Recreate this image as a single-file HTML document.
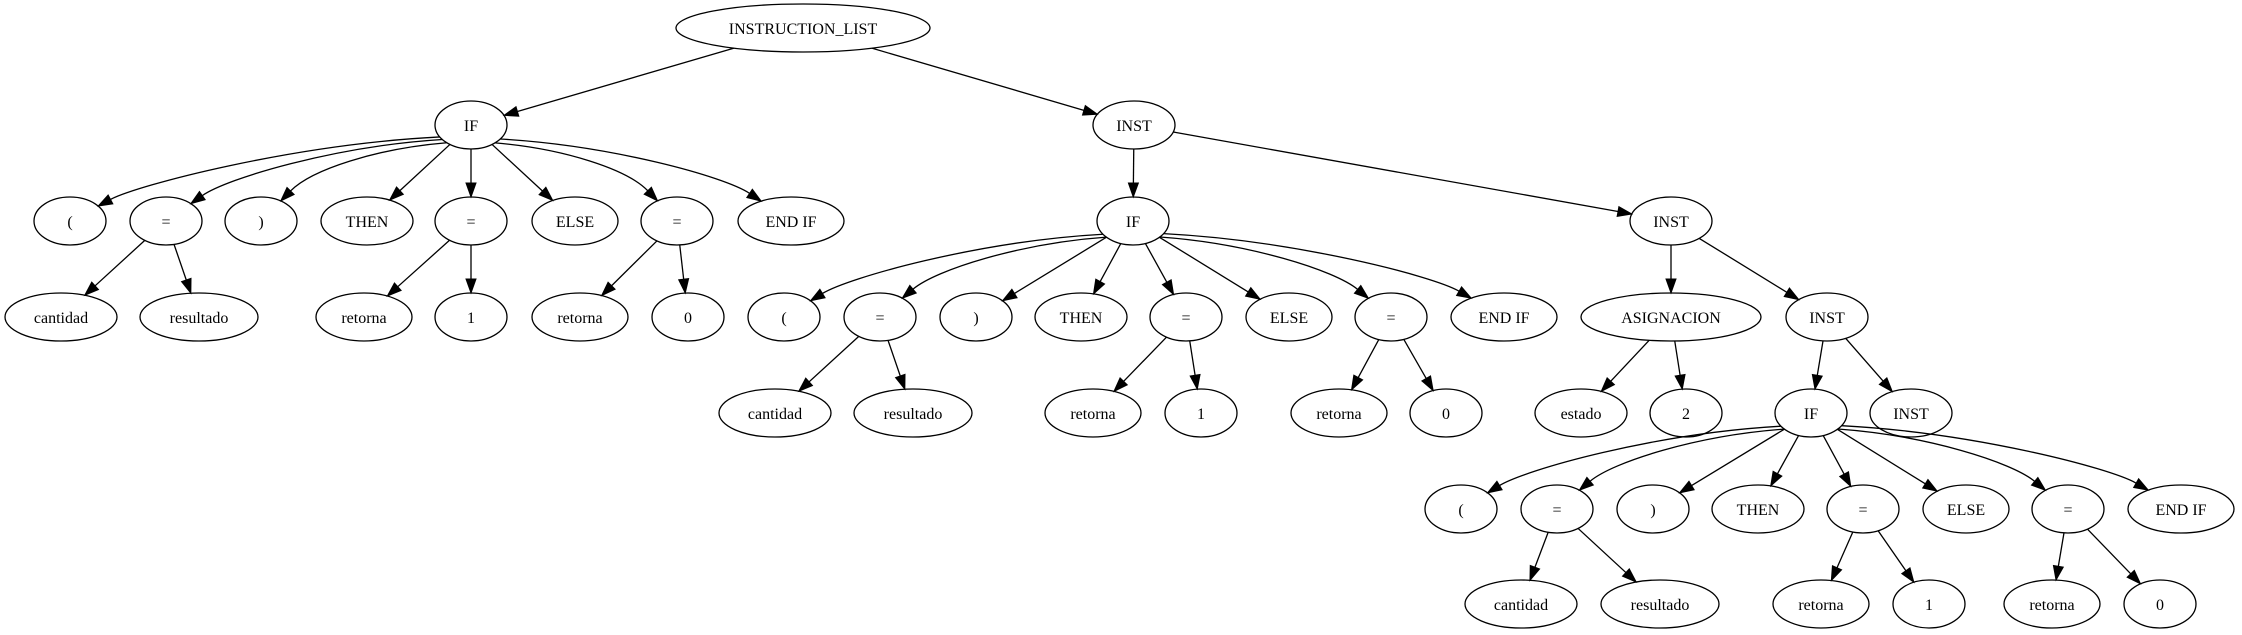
<!DOCTYPE html>
<html><head><meta charset="utf-8"><style>
html,body{margin:0;padding:0;background:#fff;}
svg{display:block;}
text{font-family:"Liberation Serif",serif;font-size:16px;fill:#000;}
ellipse{fill:none;stroke:#000;stroke-width:1.3;}
</style></head><body>
<svg id="g" width="2242" height="635" viewBox="0 0 2242 635" xmlns="http://www.w3.org/2000/svg">
<g id="edges"></g>
<g id="nodes" text-anchor="middle">
<ellipse id="root" cx="803" cy="28" rx="127" ry="24"/><text x="803" y="34">INSTRUCTION_LIST</text>
<ellipse id="if1" cx="471" cy="125" rx="36" ry="24"/><text x="471" y="131">IF</text>
<ellipse id="a1" cx="70" cy="221" rx="36" ry="24"/><text x="70" y="227">(</text>
<ellipse id="a2" cx="166" cy="221" rx="36" ry="24"/><text x="166" y="227">=</text>
<ellipse id="a3" cx="261" cy="221" rx="36" ry="24"/><text x="261" y="227">)</text>
<ellipse id="a4" cx="367" cy="221" rx="46" ry="24"/><text x="367" y="227">THEN</text>
<ellipse id="a5" cx="471" cy="221" rx="36" ry="24"/><text x="471" y="227">=</text>
<ellipse id="a6" cx="575" cy="221" rx="43" ry="24"/><text x="575" y="227">ELSE</text>
<ellipse id="a7" cx="677" cy="221" rx="36" ry="24"/><text x="677" y="227">=</text>
<ellipse id="a8" cx="791" cy="221" rx="53" ry="24"/><text x="791" y="227">END IF</text>
<ellipse id="b1" cx="61" cy="317" rx="56" ry="24"/><text x="61" y="323">cantidad</text>
<ellipse id="b2" cx="199" cy="317" rx="59" ry="24"/><text x="199" y="323">resultado</text>
<ellipse id="b3" cx="364" cy="317" rx="48" ry="24"/><text x="364" y="323">retorna</text>
<ellipse id="b4" cx="471" cy="317" rx="36" ry="24"/><text x="471" y="323">1</text>
<ellipse id="b5" cx="580" cy="317" rx="48" ry="24"/><text x="580" y="323">retorna</text>
<ellipse id="b6" cx="688" cy="317" rx="36" ry="24"/><text x="688" y="323">0</text>

<ellipse id="inst1" cx="1134" cy="125" rx="41" ry="24"/><text x="1134" y="131">INST</text>
<ellipse id="if2" cx="1133" cy="221" rx="36" ry="24"/><text x="1133" y="227">IF</text>
<ellipse id="c1" cx="784" cy="317" rx="36" ry="24"/><text x="784" y="323">(</text>
<ellipse id="c2" cx="880" cy="317" rx="36" ry="24"/><text x="880" y="323">=</text>
<ellipse id="c3" cx="976" cy="317" rx="36" ry="24"/><text x="976" y="323">)</text>
<ellipse id="c4" cx="1081" cy="317" rx="46" ry="24"/><text x="1081" y="323">THEN</text>
<ellipse id="c5" cx="1186" cy="317" rx="36" ry="24"/><text x="1186" y="323">=</text>
<ellipse id="c6" cx="1289" cy="317" rx="43" ry="24"/><text x="1289" y="323">ELSE</text>
<ellipse id="c7" cx="1391" cy="317" rx="36" ry="24"/><text x="1391" y="323">=</text>
<ellipse id="c8" cx="1504" cy="317" rx="53" ry="24"/><text x="1504" y="323">END IF</text>
<ellipse id="d1" cx="775" cy="413" rx="56" ry="24"/><text x="775" y="419">cantidad</text>
<ellipse id="d2" cx="913" cy="413" rx="59" ry="24"/><text x="913" y="419">resultado</text>
<ellipse id="d3" cx="1093" cy="413" rx="48" ry="24"/><text x="1093" y="419">retorna</text>
<ellipse id="d4" cx="1201" cy="413" rx="36" ry="24"/><text x="1201" y="419">1</text>
<ellipse id="d5" cx="1339" cy="413" rx="48" ry="24"/><text x="1339" y="419">retorna</text>
<ellipse id="d6" cx="1446" cy="413" rx="36" ry="24"/><text x="1446" y="419">0</text>

<ellipse id="inst2" cx="1671" cy="221" rx="41" ry="24"/><text x="1671" y="227">INST</text>
<ellipse id="asig" cx="1671" cy="317" rx="90" ry="24"/><text x="1671" y="323">ASIGNACION</text>
<ellipse id="inst3" cx="1827" cy="317" rx="41" ry="24"/><text x="1827" y="323">INST</text>
<ellipse id="est" cx="1581" cy="413" rx="46" ry="24"/><text x="1581" y="419">estado</text>
<ellipse id="two" cx="1686" cy="413" rx="36" ry="24"/><text x="1686" y="419">2</text>
<ellipse id="if3" cx="1811" cy="413" rx="36" ry="24"/><text x="1811" y="419">IF</text>
<ellipse id="inst4" cx="1911" cy="413" rx="41" ry="24"/><text x="1911" y="419">INST</text>
<ellipse id="e1" cx="1461" cy="509" rx="36" ry="24"/><text x="1461" y="515">(</text>
<ellipse id="e2" cx="1557" cy="509" rx="36" ry="24"/><text x="1557" y="515">=</text>
<ellipse id="e3" cx="1653" cy="509" rx="36" ry="24"/><text x="1653" y="515">)</text>
<ellipse id="e4" cx="1758" cy="509" rx="46" ry="24"/><text x="1758" y="515">THEN</text>
<ellipse id="e5" cx="1863" cy="509" rx="36" ry="24"/><text x="1863" y="515">=</text>
<ellipse id="e6" cx="1966" cy="509" rx="43" ry="24"/><text x="1966" y="515">ELSE</text>
<ellipse id="e7" cx="2068" cy="509" rx="36" ry="24"/><text x="2068" y="515">=</text>
<ellipse id="e8" cx="2181" cy="509" rx="53" ry="24"/><text x="2181" y="515">END IF</text>
<ellipse id="f1" cx="1521" cy="604" rx="56" ry="24"/><text x="1521" y="610">cantidad</text>
<ellipse id="f2" cx="1660" cy="604" rx="59" ry="24"/><text x="1660" y="610">resultado</text>
<ellipse id="f3" cx="1821" cy="604" rx="48" ry="24"/><text x="1821" y="610">retorna</text>
<ellipse id="f4" cx="1929" cy="604" rx="36" ry="24"/><text x="1929" y="610">1</text>
<ellipse id="f5" cx="2052" cy="604" rx="48" ry="24"/><text x="2052" y="610">retorna</text>
<ellipse id="f6" cx="2160" cy="604" rx="36" ry="24"/><text x="2160" y="610">0</text>
</g>
</svg>
<script>
var E=[["root","if1"],["root","inst1"],
["if1","a1"],["if1","a2"],["if1","a3"],["if1","a4"],["if1","a5"],["if1","a6"],["if1","a7"],["if1","a8"],
["a2","b1"],["a2","b2"],["a5","b3"],["a5","b4"],["a7","b5"],["a7","b6"],
["inst1","if2"],["inst1","inst2"],
["if2","c1"],["if2","c2"],["if2","c3"],["if2","c4"],["if2","c5"],["if2","c6"],["if2","c7"],["if2","c8"],
["c2","d1"],["c2","d2"],["c5","d3"],["c5","d4"],["c7","d5"],["c7","d6"],
["inst2","asig"],["inst2","inst3"],["asig","est"],["asig","two"],["inst3","if3"],["inst3","inst4"],
["if3","e1"],["if3","e2"],["if3","e3"],["if3","e4"],["if3","e5"],["if3","e6"],["if3","e7"],["if3","e8"],
["e2","f1"],["e2","f2"],["e5","f3"],["e5","f4"],["e7","f5"],["e7","f6"]];
var fan={if1:1,if2:1,if3:1};
function g(id){var e=document.getElementById(id);return{x:+e.getAttribute("cx"),y:+e.getAttribute("cy"),rx:+e.getAttribute("rx"),ry:+e.getAttribute("ry")};}
function bd(n,dx,dy){var t=1/Math.sqrt(dx*dx/(n.rx*n.rx)+dy*dy/(n.ry*n.ry));return{x:n.x+dx*t,y:n.y+dy*t};}
var s="";
E.forEach(function(p){var a=g(p[0]),b=g(p[1]);var dx=b.x-a.x,dy=b.y-a.y;
var curved=fan[p[0]]&&Math.abs(dx)>200;
var s0,s1,ux,uy,h=14,w=5,bx,by;
if(curved){
 s0=bd(a,dx,dy*1.6);
 s1=bd(b,-dx*0.45,-dy);
 var L=Math.hypot(s1.x-(b.x-dx*0.45),0)||1;
 var vx=dx*0.45,vy=dy,VL=Math.hypot(vx,vy);ux=vx/VL;uy=vy/VL;
 bx=s1.x-ux*h;by=s1.y-uy*h;
 var c1x=s0.x+(bx-s0.x)*0.45,c1y=s0.y+(by-s0.y)*0.12;
 var c2x=bx-ux*30,c2y=by-uy*30;
 s+='<path d="M'+s0.x+','+s0.y+' C'+c1x+','+c1y+' '+c2x+','+c2y+' '+bx+','+by+'" fill="none" stroke="#000" stroke-width="1.3"/>';
}else{
 s0=bd(a,dx,dy);s1=bd(b,-dx,-dy);var L2=Math.hypot(s1.x-s0.x,s1.y-s0.y);ux=(s1.x-s0.x)/L2;uy=(s1.y-s0.y)/L2;
 bx=s1.x-ux*h;by=s1.y-uy*h;
 s+='<line x1="'+s0.x+'" y1="'+s0.y+'" x2="'+bx+'" y2="'+by+'" stroke="#000" stroke-width="1.3"/>';
}
s+='<polygon points="'+s1.x+','+s1.y+' '+(bx-uy*w)+','+(by+ux*w)+' '+(bx+uy*w)+','+(by-ux*w)+'" fill="#000" stroke="#000"/>';});
document.getElementById("edges").innerHTML=s;
</script>
</body></html>
